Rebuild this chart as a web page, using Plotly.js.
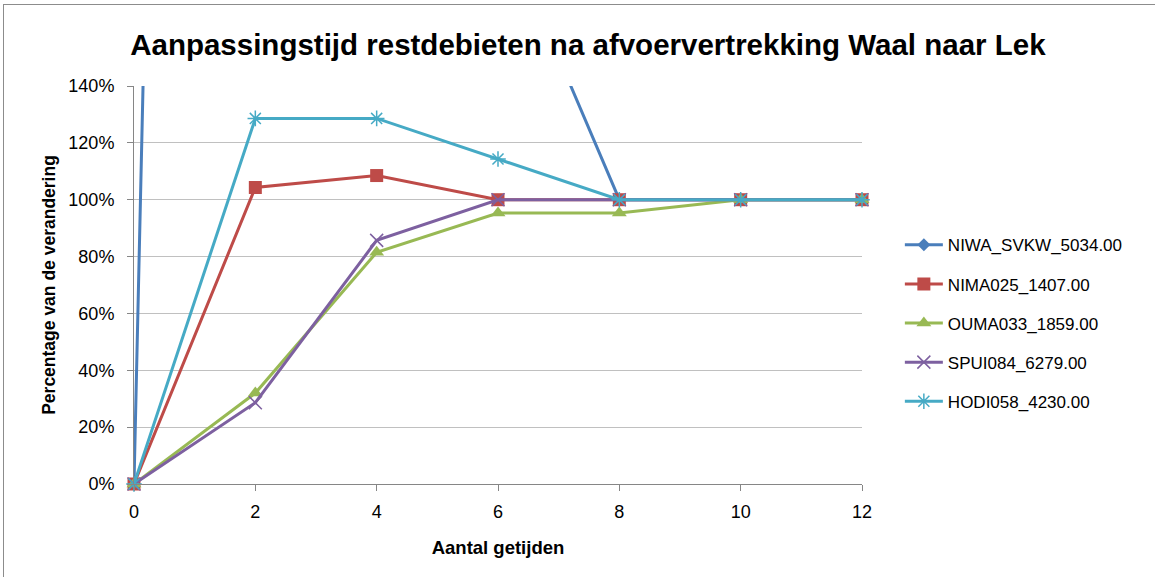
<!DOCTYPE html>
<html>
<head>
<meta charset="utf-8">
<script src="https://cdn.plot.ly/plotly-3.0.1.min.js"></script>
<style>
html,body{margin:0;padding:0;background:#fff;}
#wrap{position:relative;width:1155px;height:577px;overflow:hidden;}
#chart{width:1155px;height:577px;}
#frame{position:absolute;left:3px;top:4px;width:1200px;height:600px;border-left:1.5px solid #8c8c8c;border-top:1.5px solid #8c8c8c;pointer-events:none;}
</style>
</head>
<body>
<div id="wrap"><div id="chart"></div><div id="frame"></div></div>
<script>
const getijden = [0, 2, 4, 6, 8, 10, 12];
const seriesNames = ["NIWA_SVKW_5034.00", "NIMA025_1407.00", "OUMA033_1859.00", "SPUI084_6279.00", "HODI058_4230.00"];
const niwa  = [0, 18.8, 6.0, 2.0, 1.0, 1.0, 1.0];
const nima  = [0, 1.043, 1.085, 1.0, 1.0, 1.0, 1.0];
const ouma  = [0, 0.32, 0.815, 0.953, 0.953, 1.0, 1.0];
const spui  = [0, 0.286, 0.857, 1.0, 1.0, 1.0, 1.0];
const hodi  = [0, 1.286, 1.286, 1.143, 1.0, 1.0, 1.0];
const yTicks = [0, 0.2, 0.4, 0.6, 0.8, 1.0, 1.2, 1.4];
const yTickText = ["0%", "20%", "40%", "60%", "80%", "100%", "120%", "140%"];
const xTicks = [0, 2, 4, 6, 8, 10, 12];

const values = [niwa, nima, ouma, spui, hodi];
const colors = ["#4a7ebb", "#be4b48", "#98b954", "#7d60a0", "#46aac5"];
const symbols = ["diamond", "square", "triangle-up", "x-thin-open", "asterisk-open"];
const sizes = [10, 13, 13, 13, 13];

const traces = values.map((v, i) => ({
  x: getijden, y: v, name: seriesNames[i], type: "scatter", mode: "lines+markers",
  legendgroup: "g" + i, cliponaxis: false,
  line: {color: colors[i], width: 3},
  marker: {symbol: symbols[i], size: sizes[i], color: colors[i], line: {color: colors[i], width: (i >= 3 ? 1.5 : 0)}}
}));

const font = "Liberation Sans, Arial, sans-serif";
const layout = {
  width: 1155, height: 577,
  margin: {l: 134, r: 293, t: 86, b: 93},
  paper_bgcolor: "#fff", plot_bgcolor: "#fff",
  showlegend: true,
  font: {family: font, color: "#000"},
  title: {text: "<b>Aanpassingstijd restdebieten na afvoervertrekking Waal naar Lek</b>", font: {family: font, size: 29.5, color: "#000"},
          x: 0.509, xanchor: "center", y: 0.922, yanchor: "middle", xref: "container", yref: "container"},
  xaxis: {range: [0, 12], tickvals: xTicks, ticktext: xTicks.map(String), ticks: "outside", ticklen: 6, tickcolor: "#868686",
          showline: true, linecolor: "#868686", linewidth: 1, showgrid: false, zeroline: false,
          ticklabelstandoff: 5,
          tickfont: {family: font, size: 18, color: "#000"},
          title: {text: "<b>Aantal getijden</b>", font: {family: font, size: 18.5, color: "#000"}, standoff: 20}},
  yaxis: {range: [0, 1.4], tickvals: yTicks, ticktext: yTickText, ticks: "outside", ticklen: 6, tickcolor: "#868686",
          showline: true, linecolor: "#868686", linewidth: 1, showgrid: true, gridcolor: "#c0c0c0", gridwidth: 1, zeroline: false,
          ticklabelstandoff: 9,
          tickfont: {family: font, size: 18, color: "#000"},
          title: {text: "<b>Percentage van de verandering</b>", font: {family: font, size: 17.5, color: "#000"}, standoff: 8}},
  legend: {x: 1.052, xanchor: "left", y: 0.645, yanchor: "top", font: {family: font, size: 17, color: "#000"},
           tracegroupgap: 14, traceorder: "grouped", bgcolor: "rgba(0,0,0,0)", itemwidth: 38}
};

Plotly.newPlot("chart", traces, layout, {displayModeBar: false, staticPlot: true});
</script>
</body>
</html>
